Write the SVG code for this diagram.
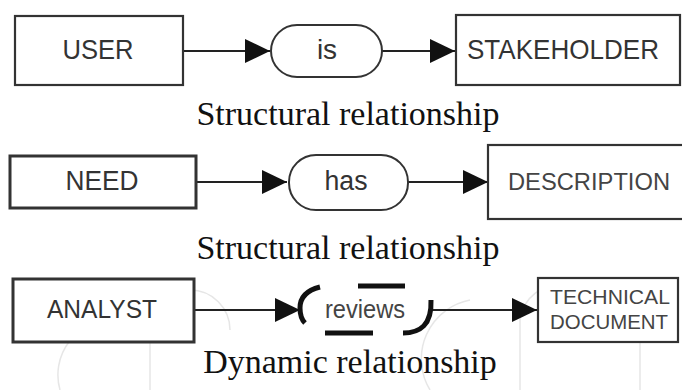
<svg xmlns="http://www.w3.org/2000/svg" width="682" height="390" viewBox="0 0 682 390">
<defs>
<style>
.box{fill:#fff;stroke:#333;stroke-width:2.2}
.pill{fill:#fff;stroke:#333;stroke-width:2}
.lbl{font-family:"Liberation Sans",Arial,sans-serif;fill:#333;text-anchor:middle}
.cap{font-family:"Liberation Serif","Times New Roman",serif;font-size:34px;fill:#111;text-anchor:middle}
.conn{stroke:#222;stroke-width:2;fill:none;marker-end:url(#arr)}
.dash{stroke:#111;stroke-width:5;fill:none}
.wm{stroke:#e6e6e6;stroke-width:1.5;fill:none}
</style>
<marker id="arr" markerUnits="userSpaceOnUse" markerWidth="26" markerHeight="26" refX="25" refY="12" orient="auto">
<path d="M0,0 L25,12 L0,24 z" fill="#111"/>
</marker>
</defs>
<rect width="682" height="390" fill="#fff"/>
<g id="watermark">
<path class="wm" d="M60,390 A55,55 0 0 1 115,320"/>
<path class="wm" d="M150,390 V330 A40,40 0 0 1 230,330"/>
<path class="wm" d="M520,390 V320 A40,40 0 0 1 600,330"/>
<path class="wm" d="M430,390 A60,60 0 0 1 470,300"/>
<path class="wm" d="M640,390 V300"/>
</g>
<g id="connectors">
<path class="conn" d="M183,51 H270"/>
<path class="conn" d="M382,51 H455"/>
<path class="conn" d="M196,182 H287"/>
<path class="conn" d="M408,182 H488"/>
<path class="conn" d="M194,310 H300"/>
<path class="conn" d="M432,310 H537"/>
</g>
<g id="user">
<rect class="box" x="15" y="16" width="168" height="69"/>
<text class="lbl" x="98" y="59" font-size="28" textLength="71" lengthAdjust="spacingAndGlyphs">USER</text>
</g>
<g id="is">
<rect class="pill" x="271" y="25" width="111" height="52" rx="26"/>
<text class="lbl" x="327" y="59" font-size="28">is</text>
</g>
<g id="stakeholder">
<rect class="box" x="456" y="15" width="224" height="70"/>
<text class="lbl" x="563" y="59" font-size="28" textLength="192" lengthAdjust="spacingAndGlyphs">STAKEHOLDER</text>
</g>
<g id="need">
<rect class="box" x="10" y="156" width="186" height="52" style="stroke-width:3"/>
<text class="lbl" x="102" y="190" font-size="28" textLength="73" lengthAdjust="spacingAndGlyphs">NEED</text>
</g>
<g id="has">
<rect class="pill" x="289" y="155" width="119" height="55" rx="27"/>
<text class="lbl" x="346" y="190" font-size="27" textLength="43" lengthAdjust="spacingAndGlyphs">has</text>
</g>
<g id="description">
<rect class="box" x="488" y="145" width="200" height="74"/>
<text class="lbl" x="589" y="190" font-size="24" textLength="162" lengthAdjust="spacingAndGlyphs" style="fill:#444">DESCRIPTION</text>
</g>
<g id="analyst">
<rect class="box" x="13" y="279" width="181" height="63" style="stroke-width:3"/>
<text class="lbl" x="102" y="318" font-size="25" textLength="110" lengthAdjust="spacingAndGlyphs">ANALYST</text>
</g>
<g id="reviews">
<path class="dash" d="M320,287 Q300,292 300,308 Q300,318 305,323"/>
<path class="dash" d="M358,286 H405"/>
<path class="dash" d="M325,333 H373"/>
<path class="dash" d="M431,300 C432,325 420,333 403,333"/>
<text class="lbl" x="365" y="318" font-size="25" textLength="80" lengthAdjust="spacingAndGlyphs" style="fill:#444">reviews</text>
</g>
<g id="technical-document">
<rect class="box" x="538" y="278" width="140" height="64"/>
<text class="lbl" x="610" y="304" font-size="21" textLength="120" lengthAdjust="spacingAndGlyphs" style="fill:#444">TECHNICAL</text>
<text class="lbl" x="609" y="329" font-size="21" textLength="118" lengthAdjust="spacingAndGlyphs" style="fill:#444">DOCUMENT</text>
</g>
<text class="cap" x="348" y="125">Structural relationship</text>
<text class="cap" x="348" y="259">Structural relationship</text>
<text class="cap" x="350" y="373">Dynamic relationship</text>
</svg>
